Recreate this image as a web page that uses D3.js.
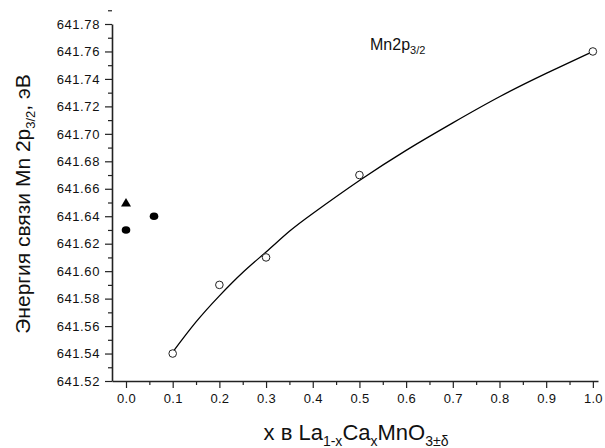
<!DOCTYPE html>
<html><head><meta charset="utf-8">
<script src="https://cdn.jsdelivr.net/npm/d3@7"></script>
<style>body{margin:0;background:#fff}svg{display:block;font-family:"Liberation Sans",Arial,sans-serif}</style>
</head><body><svg id="c" width="605" height="448"></svg>
<script>
// data
const openX = [0.1, 0.2, 0.3, 0.5, 1.0];
const openY = [641.54, 641.59, 641.61, 641.67, 641.76];
const filledX = [0.0, 0.06];
const filledY = [641.63, 641.64];
const triX = [0.0];
const triY = [641.65];
const fitX = [0.1, 0.15, 0.2, 0.25, 0.3, 0.35, 0.4, 0.5, 0.6, 0.7, 0.8, 0.9, 1.0];
const fitY = [641.541, 641.563, 641.582, 641.599, 641.614, 641.629, 641.642, 641.666, 641.688, 641.708, 641.727, 641.744, 641.760];
const xTicks = [0.0,0.1,0.2,0.3,0.4,0.5,0.6,0.7,0.8,0.9,1.0];
const yTicks = [641.52,641.54,641.56,641.58,641.60,641.62,641.64,641.66,641.68,641.70,641.72,641.74,641.76,641.78];

const svg = d3.select("#c");
const x = d3.scaleLinear().domain([-0.03, 1.011]).range([112, 598]);
const y = d3.scaleLinear().domain([641.52, 641.78]).range([381, 24]);

// minor ticks
const xMinor = d3.range(0, 21).map(i => i*0.05).filter(v => Math.round(v*100)%10 !== 0);
const yMinor = d3.range(0, 26).map(i => 641.53 + i*0.02);

const gx = svg.append("g").attr("transform","translate(0,381)");
gx.call(d3.axisBottom(x).tickValues(xMinor).tickSize(4).tickFormat(""));
gx.call(g=>g.select(".domain").remove());
const gx2 = svg.append("g").attr("transform","translate(0,381)");
gx2.call(d3.axisBottom(x).tickValues(xTicks).tickSize(7).tickSizeOuter(0).tickPadding(6).tickFormat(d3.format(".1f")));
gx2.select(".domain").attr("stroke-width",1.6);

const gy = svg.append("g").attr("transform","translate(112,0)");
gy.call(d3.axisLeft(y).tickValues(yMinor).tickSize(4).tickFormat(""));
gy.call(g=>g.select(".domain").remove());
const gy2 = svg.append("g").attr("transform","translate(112,0)");
gy2.call(d3.axisLeft(y).tickValues(yTicks).tickSize(7).tickSizeOuter(0).tickPadding(5).tickFormat(d3.format(".2f")));
gy2.select(".domain").attr("stroke-width",1.6);

svg.selectAll(".tick text").attr("font-size","13px").attr("fill","#111").attr("font-family","'Liberation Sans',Arial,sans-serif");
gy2.selectAll(".tick text").attr("letter-spacing","0.6px");
gx2.selectAll(".tick text").attr("letter-spacing","0.3px");
svg.selectAll(".tick line").attr("stroke","#222").attr("stroke-width",1.2);
svg.selectAll(".domain").attr("stroke","#222");

// fit curve
const fit = fitX.map((v,i)=>[v,fitY[i]]);
svg.append("path").datum(fit)
  .attr("d", d3.line().x(d=>x(d[0])).y(d=>y(d[1])).curve(d3.curveNatural))
  .attr("fill","none").attr("stroke","#000").attr("stroke-width",1.3);

// open circles
svg.selectAll(".oc").data(openX.map((v,i)=>[v,openY[i]])).enter().append("circle")
  .attr("cx",d=>x(d[0])).attr("cy",d=>y(d[1])).attr("r",3.8)
  .attr("fill","#fff").attr("stroke","#222").attr("stroke-width",1);
// filled circles
svg.selectAll(".fc").data(filledX.map((v,i)=>[v,filledY[i]])).enter().append("ellipse")
  .attr("cx",d=>x(d[0])).attr("cy",d=>y(d[1])).attr("rx",4.3).attr("ry",3.8)
  .attr("fill","#000");
// triangle
svg.selectAll(".tr").data(triX.map((v,i)=>[v,triY[i]])).enter().append("path")
  .attr("transform",d=>`translate(${x(d[0])},${y(d[1])})`)
  .attr("d","M0,-4.5 L5,4 L-5,4 Z").attr("fill","#000");

// label Mn2p3/2
const lab = svg.append("text").attr("x",370).attr("y",50).attr("font-size","16px").attr("fill","#111");
lab.append("tspan").text("Mn2p");
lab.append("tspan").attr("font-size","11px").attr("dy",4).text("3/2");

// y title
const yt = svg.append("text").attr("transform","translate(30,204) rotate(-90)")
  .attr("text-anchor","middle").attr("font-size","21px").attr("fill","#111");
yt.append("tspan").text("Энергия связи Mn 2p");
yt.append("tspan").attr("font-size","13px").attr("dy",5).text("3/2");
yt.append("tspan").attr("dy",-5).text(", эВ");

// x title
const xt = svg.append("text").attr("x",356).attr("y",440).attr("text-anchor","middle").attr("font-size","22px").attr("fill","#111");
xt.append("tspan").text("x в La");
xt.append("tspan").attr("font-size","14px").attr("dy",6).text("1-x");
xt.append("tspan").attr("dy",-6).text("Ca");
xt.append("tspan").attr("font-size","14px").attr("dy",6).text("x");
xt.append("tspan").attr("dy",-6).text("MnO");
xt.append("tspan").attr("font-size","14px").attr("dy",6).text("3±δ");
</script></body></html>
